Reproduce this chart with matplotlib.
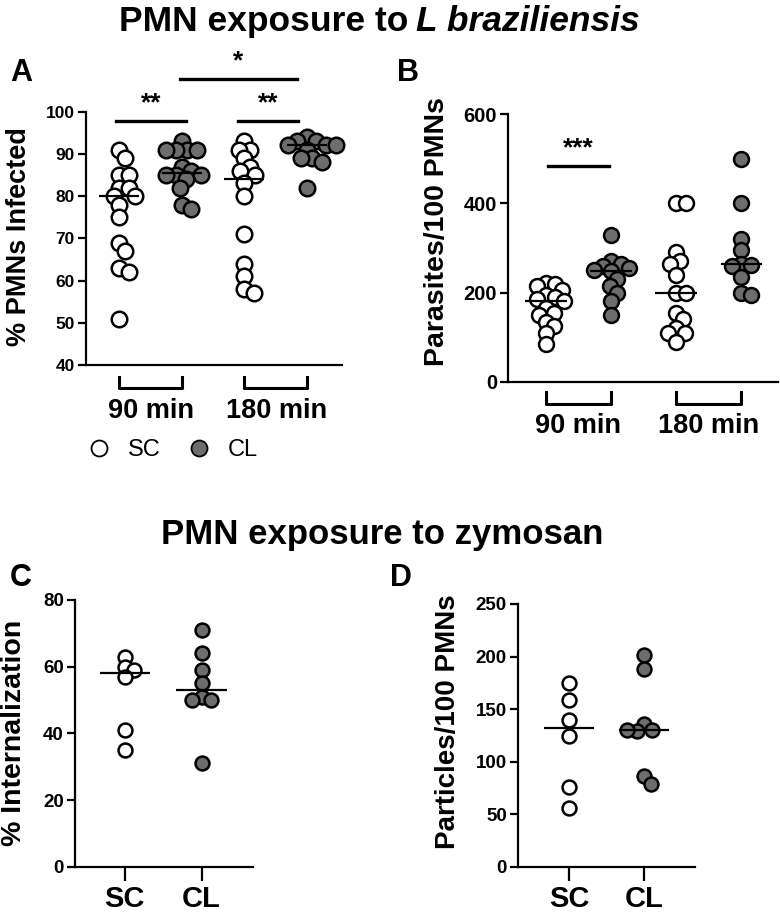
import numpy as np
import matplotlib
matplotlib.use('Agg')
import matplotlib.pyplot as plt
from matplotlib.lines import Line2D

plt.rcParams['font.family'] = ['Liberation Sans', 'DejaVu Sans']
plt.rcParams['font.weight'] = 'bold'

# data
groups_ab = ['SC 90', 'CL 90', 'SC 180', 'CL 180']
time_labels = ['90 min', '180 min']
a_sc90 = [91, 89, 85, 85, 82, 82, 80, 80, 78, 75, 69, 67, 63, 62, 51]
a_cl90 = [93, 91, 91, 91, 91, 87, 86, 85, 85, 85, 84, 82, 78, 77]
a_sc180 = [93, 91, 91, 89, 87, 86, 85, 83, 80, 71, 64, 61, 58, 57]
a_cl180 = [94, 93, 93, 92, 92, 92, 91, 89, 89, 88, 82]

b_sc90 = [222, 220, 215, 205, 195, 190, 185, 180, 165, 155, 150, 135, 125, 110, 85]
b_cl90 = [330, 270, 265, 260, 255, 250, 248, 230, 215, 200, 180, 150]
b_sc180 = [400, 400, 290, 270, 265, 240, 200, 200, 155, 140, 120, 110, 110, 90]
b_cl180 = [500, 400, 320, 295, 265, 262, 260, 235, 200, 195]

groups_cd = ['SC', 'CL']
c_sc = [63, 60, 59, 57, 41, 35]
c_cl = [71, 64, 59, 55, 51, 50, 50, 31]
d_sc = [175, 159, 140, 124, 76, 56]
d_cl = [201, 188, 136, 130, 129, 130, 86, 79]

W, H = 780, 914
GREY = '#6d6d6d'
fig = plt.figure(figsize=(W / 100, H / 100), dpi=100)


def px_axes(x0, x1, ytop, ybot):
    return fig.add_axes([x0 / W, 1 - ybot / H, (x1 - x0) / W, (ybot - ytop) / H])


def fx(x):
    return x / W


def fy(y):
    return 1 - y / H


def swarm(ax, vals, diam):
    # simple beeswarm, offsets in pixels then back to data units
    ys = ax.transData.transform(np.column_stack([np.zeros(len(vals)), vals]))[:, 1]
    placed, offs = [], []
    for y in ys:
        for k in range(400):
            dx = (k + 1) // 2 * 0.5 * (1 if k % 2 else -1)
            if all((dx - px) ** 2 + (y - py) ** 2 >= diam ** 2 for px, py in placed):
                break
        placed.append((dx, y))
        offs.append(dx)
    unit = ax.transData.transform([(1, 0)])[0][0] - ax.transData.transform([(0, 0)])[0][0]
    return np.array(offs) / unit


def dots(ax, series, colors, s, diam, half=0.32):
    for i, (vals, c) in enumerate(zip(series, colors)):
        off = swarm(ax, vals, diam)
        ax.scatter(i + off, vals, s=s, facecolor=c, edgecolor='black',
                   linewidth=1.8, zorder=3, clip_on=False)
        ax.hlines(np.median(vals), i - half, i + half, color='black', lw=1.6, zorder=4)


def style(ax, ticksize):
    ax.spines['top'].set_visible(False)
    ax.spines['right'].set_visible(False)
    for sp in ['left', 'bottom']:
        ax.spines[sp].set_linewidth(1.6)
    ax.tick_params(axis='y', width=1.6, length=6, labelsize=ticksize, pad=2)
    for t in ax.get_yticklabels():
        t.set_fontweight('bold')


colors4 = ['white', GREY, 'white', GREY]

# ---- panel A
axA = px_axes(86, 342, 111.7, 365)
axA.set_xlim(-0.53, 3.56)
axA.set_ylim(40, 100)
axA.set_yticks(np.arange(40, 101, 10))
style(axA, 12.5)
axA.set_xticks([])
dots(axA, [a_sc90, a_cl90, a_sc180, a_cl180], colors4, 125, 10)
for x0, x1, y, lab in [(-0.05, 1.07, 97.8, '**'), (1.9, 2.85, 97.8, '**'), (0.97, 2.84, 107.7, '*')]:
    axA.plot([x0, x1], [y, y], color='black', lw=2.4, clip_on=False)
    axA.text((x0 + x1) / 2, y + 1.3, lab, ha='center', va='bottom', fontsize=19)
for j, lab in enumerate(time_labels):
    x0, x1 = 2 * j, 2 * j + 1
    axA.plot([x0, x0, x1, x1], [37.2, 34.5, 34.5, 37.2], color='black', lw=2.2, clip_on=False)
fig.text(fx(151), fy(411), time_labels[0], ha='center', va='center', fontsize=19.5)
fig.text(fx(277), fy(411), time_labels[1], ha='center', va='center', fontsize=19.5)
fig.text(fx(19), fy(237), '% PMNs Infected', rotation=90, ha='center', va='center', fontsize=19.5)
handles = [Line2D([], [], ls='none', marker='o', ms=11.5, mfc='white', mec='black', mew=1.3),
           Line2D([], [], ls='none', marker='o', ms=11.5, mfc=GREY, mec='black', mew=1.3)]
fig.legend(handles, groups_cd, ncol=2, loc='center left', bbox_to_anchor=(fx(87), fy(450)),
           frameon=False, handlelength=1.0, handletextpad=0.72, columnspacing=1.15,
           borderpad=0, borderaxespad=0, prop={'size': 17, 'weight': 'normal'})
fig.text(fx(21), fy(73), 'A', ha='center', va='center', fontsize=22)

# ---- panel B
axB = px_axes(508, 778, 114.3, 381.7)
axB.set_xlim(-0.58, 3.56)
axB.set_ylim(0, 600)
axB.set_yticks([0, 200, 400, 600])
style(axB, 14.5)
axB.set_xticks([])
dots(axB, [b_sc90, b_cl90, b_sc180, b_cl180], colors4, 115, 9.5)
axB.plot([0.03, 0.97], [484, 484], color='black', lw=2.4, clip_on=False)
axB.text(0.5, 496, '***', ha='center', va='bottom', fontsize=19)
for j in range(2):
    x0, x1 = 2 * j, 2 * j + 1
    axB.plot([x0, x0, x1, x1], [-22, -50, -50, -22], color='black', lw=2.2, clip_on=False)
fig.text(fx(578), fy(426), time_labels[0], ha='center', va='center', fontsize=19.5)
fig.text(fx(709), fy(426), time_labels[1], ha='center', va='center', fontsize=19.5)
fig.text(fx(437), fy(232), 'Parasites/100 PMNs', rotation=90, ha='center', va='center', fontsize=20.5)
fig.text(fx(408), fy(73), 'B', ha='center', va='center', fontsize=22)

# ---- titles
fig.text(fx(408), fy(31), 'PMN exposure to', ha='right', va='baseline', fontsize=25.5)
fig.text(fx(416), fy(31), 'L braziliensis', ha='left', va='baseline', fontsize=25.5, style='italic')
fig.text(fx(382), fy(544), 'PMN exposure to zymosan', ha='center', va='baseline', fontsize=25)

# ---- panel C
axC = px_axes(75, 253, 600, 866.7)
axC.set_xlim(-0.65, 1.67)
axC.set_ylim(0, 80)
axC.set_yticks(np.arange(0, 81, 20))
style(axC, 13.5)
axC.set_xticks([0, 1])
axC.set_xticklabels(groups_cd, fontsize=21, fontweight='bold')
axC.tick_params(axis='x', width=1.6, length=10, pad=3)
dots(axC, [c_sc, c_cl], ['white', GREY], 100, 10, half=0.33)
fig.text(fx(14), fy(733), '% Internalization', rotation=90, ha='center', va='center', fontsize=20.5)
fig.text(fx(21), fy(578), 'C', ha='center', va='center', fontsize=22)

# ---- panel D
axD = px_axes(518, 695, 604, 866.7)
axD.set_xlim(-0.68, 1.68)
axD.set_ylim(0, 250)
axD.set_yticks(np.arange(0, 251, 50))
style(axD, 13.5)
axD.set_xticks([0, 1])
axD.set_xticklabels(groups_cd, fontsize=21, fontweight='bold')
axD.tick_params(axis='x', width=1.6, length=10, pad=3)
dots(axD, [d_sc, d_cl], ['white', GREY], 100, 10, half=0.33)
fig.text(fx(448), fy(722), 'Particles/100 PMNs', rotation=90, ha='center', va='center', fontsize=20)
fig.text(fx(401), fy(578), 'D', ha='center', va='center', fontsize=22)

fig.savefig('out.png', dpi=100)
